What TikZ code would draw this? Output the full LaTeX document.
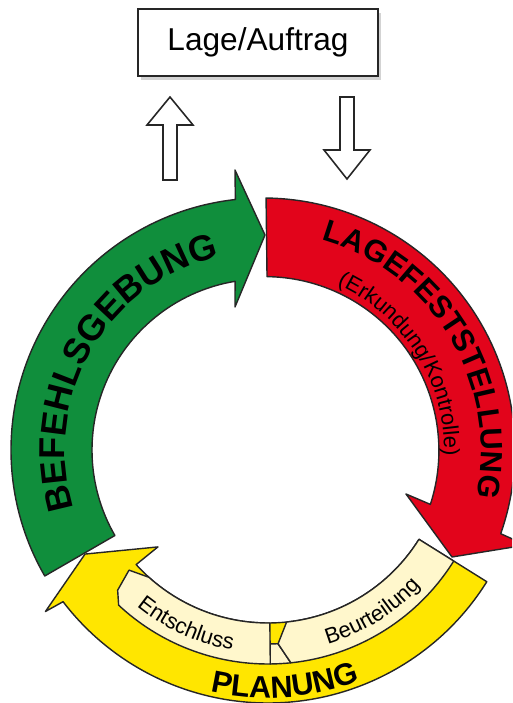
\documentclass[tikz,border=0pt]{standalone}
\usepackage{fontspec}
\setmainfont{Liberation Sans}
\usetikzlibrary{decorations.text,shadows}

\definecolor{befehlgreen}{RGB}{16,142,60}
\definecolor{lagered}{RGB}{226,4,27}
\definecolor{planyellow}{RGB}{255,230,0}
\definecolor{stufepale}{RGB}{255,247,204}

\newcommand{\ringfont}{\fontsize{20.5}{20.5}\selectfont\bfseries}
\newcommand{\lagefont}{\fontsize{17.5}{17.5}\selectfont\bfseries}
\newcommand{\planfont}{\fontsize{17.5}{17.5}\selectfont\bfseries}
\newcommand{\subfont}{\fontsize{12.5}{12.5}\selectfont}

\tikzset{
  ring/.style={draw=black!85, line width=0.8pt, line join=round},
  hollow/.style={draw=black!85, line width=0.9pt, fill=white, line join=miter},
  box/.style={draw=black!85, line width=0.9pt, fill=white, minimum width=4.8cm,
    minimum height=1.34cm, font=\fontsize{18}{18}\selectfont,
    drop shadow={shadow xshift=1.5pt, shadow yshift=-2pt, opacity=0.35}},
  ringtext/.style={decorate, decoration={text along path, text align=center, text={#1}}}
}

\begin{document}
\begin{tikzpicture}[x=0.02cm, y=0.02cm]
    \clip (-263,-253) rectangle (249,450);

    \node[box] (lage) at (-5,407.5) {Lage/Auftrag};

    \draw[hollow] (-100,270) -- (-100,325) -- (-116,325) -- (-93,353) -- (-70,325) -- (-86,325) -- (-86,270) -- cycle;
    \draw[hollow] (77,353) -- (91,353) -- (91,300) -- (107,300) -- (84,271) -- (61,300) -- (77,300) -- cycle;

    \draw[ring, fill=befehlgreen] (210:252) arc[start angle=210, end angle=96.3, radius=252]
        -- (-28,280) -- (2,215) -- (-28,143) -- (99.4:171)
        arc[start angle=99.4, end angle=210, radius=171] -- cycle;

    \draw[ring, fill=lagered] (89.3:252) arc[start angle=89.3, end angle=-19.4, radius=252]
        -- (263,-95) -- (189,-107) -- (143,-44) -- (-18:176)
        arc[start angle=-18, end angle=89.3, radius=174] -- cycle;

    \begin{scope}[shift={(5,5)}]
        \draw[ring, fill=planyellow] (-32:258) arc[start angle=-32, end angle=-142.6, radius=258]
            -- (216.8:278) -- (210.8:213) -- (222.8:150) -- (222.2:178)
            arc[start angle=222.2, end angle=328, radius=178] -- cycle;

        \draw[ring, fill=stufepale] (270.6:199) -- (270.6:219) arc[start angle=270.6, end angle=276, radius=219] -- (272.9:199) -- cycle;
        \draw[ring, fill=stufepale] (270.6:178) arc[start angle=270.6, end angle=228, radius=178]
            -- (222:187) -- (224:209) -- (227:219)
            arc[start angle=227, end angle=270.6, radius=219] -- cycle;
        \draw[ring, fill=stufepale] (-32:178) -- (-32:219) arc[start angle=-32, end angle=-84, radius=219]
            -- (-87.1:199) -- (-84:178) arc[start angle=-84, end angle=-32, radius=178] -- cycle;

        \path[ringtext={|\planfont|PLANUNG}] (234:253) arc[start angle=234, end angle=314, radius=253];
        \path[ringtext={|\subfont|Entschluss}] (215:208) arc[start angle=215, end angle=276, radius=208];
        \path[ringtext={|\subfont|Beurteilung}] (272:208) arc[start angle=272, end angle=332, radius=208];
    \end{scope}

    \path[ringtext={|\ringfont|BEFEHLSGEBUNG}] (215:198) arc[start angle=215, end angle=85, radius=198];
    \path[ringtext={|\lagefont|LAGEFESTSTELLUNG}] (76:218) arc[start angle=76, end angle=-14, radius=218];
    \path[ringtext={|\subfont|(Erkundung/Kontrolle)}] (72:181) arc[start angle=72, end angle=-8, radius=181];
\end{tikzpicture}
\end{document}
